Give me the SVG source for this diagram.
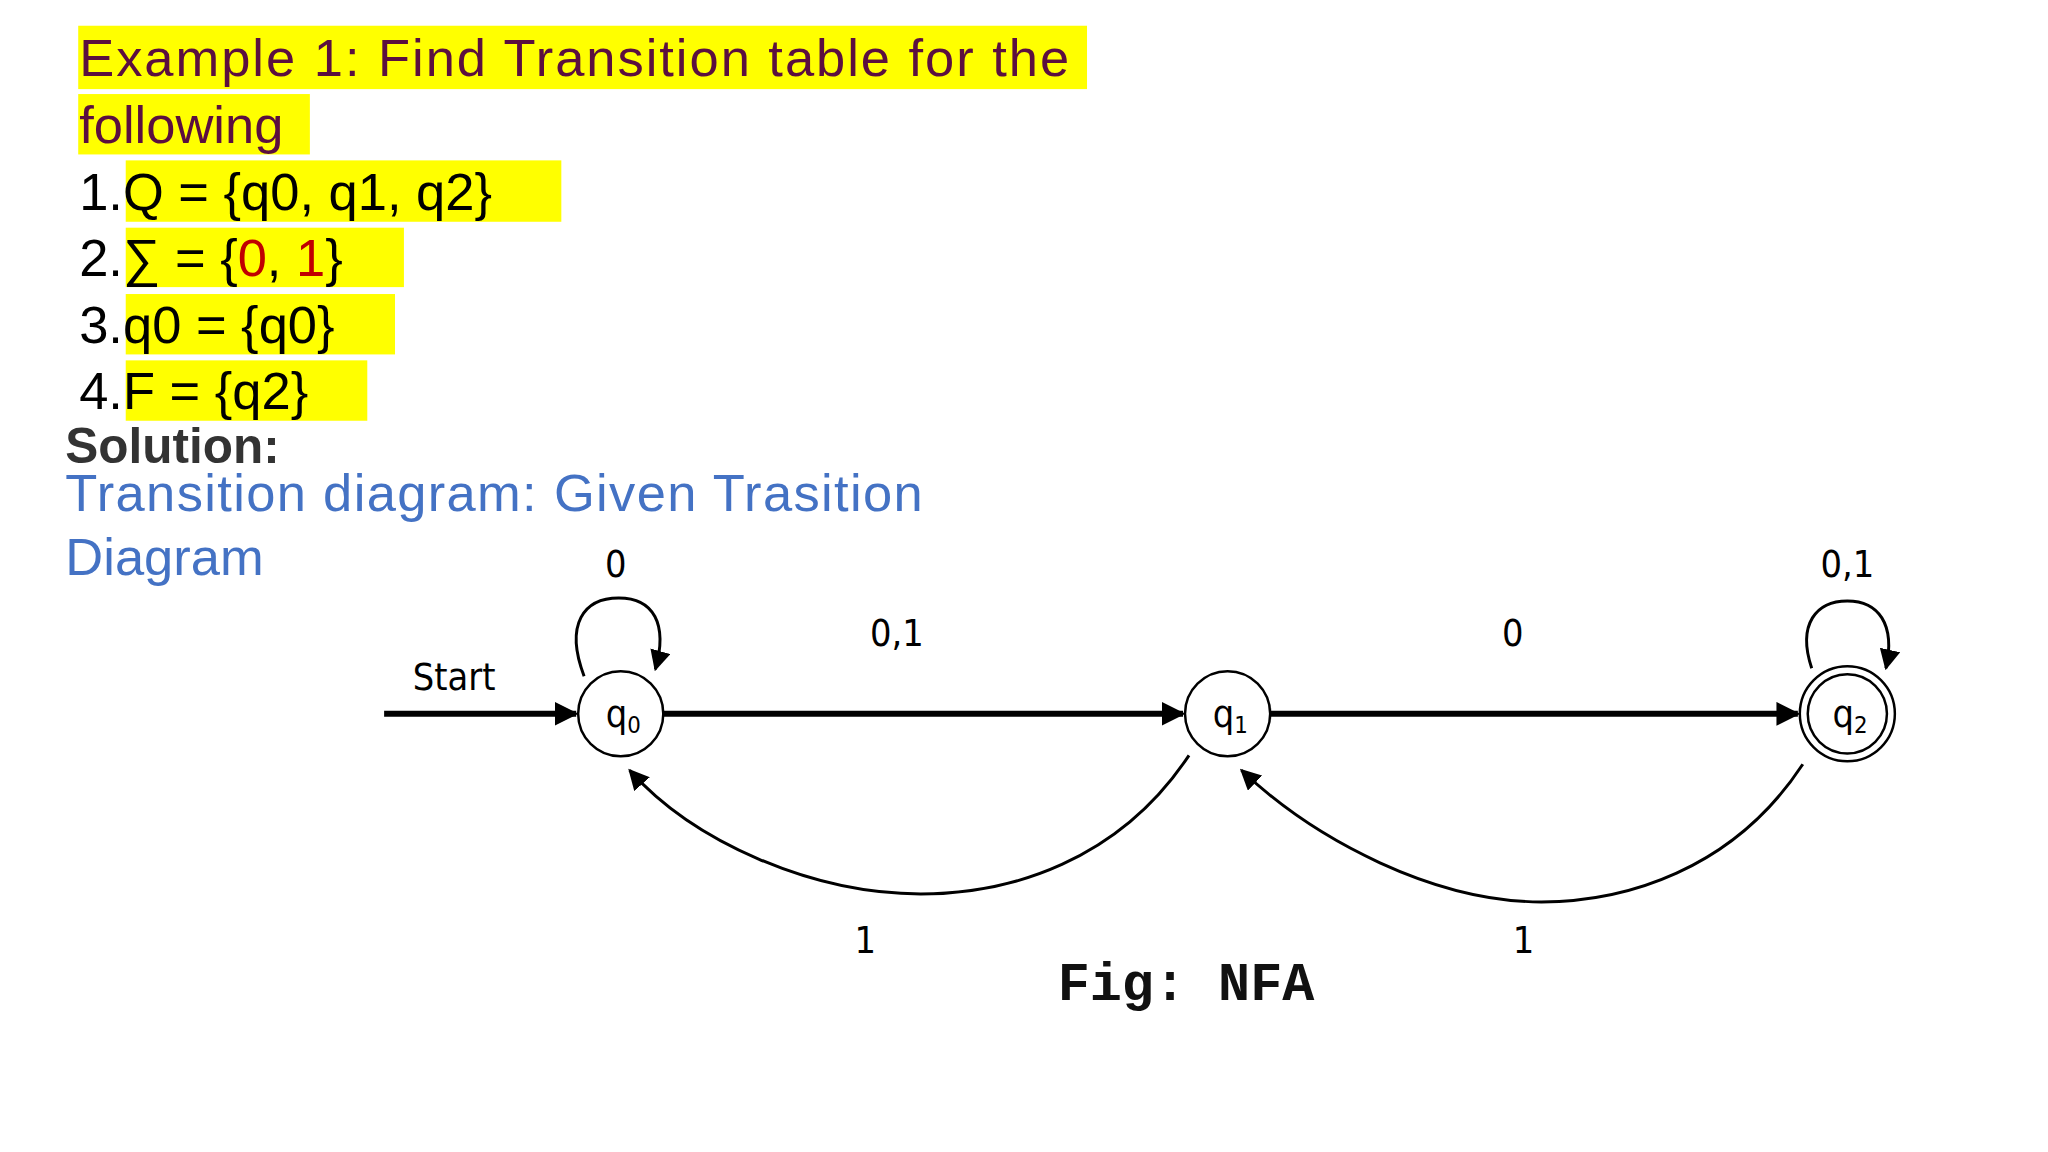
<svg xmlns="http://www.w3.org/2000/svg" width="2048" height="1152" viewBox="0 0 2048 1152">
<style>
.hl{fill:#ffff00}
.t{font-family:"Liberation Sans",Arial,sans-serif;font-size:53px}
.d{font-family:"DejaVu Sans Condensed","DejaVu Sans",sans-serif;font-size:38px;fill:#000}
.st{fill:#fff;stroke:#000;stroke-width:2.5}
.e{fill:none;stroke:#000;stroke-width:6}
.c{fill:none;stroke:#000;stroke-width:3}
</style>
<defs>
<marker id="ah" viewBox="0 0 10 10" refX="9" refY="5" markerWidth="4" markerHeight="4" orient="auto" markerUnits="strokeWidth"><path d="M0,0 L10,5 L0,10 z" fill="#000"/></marker>
<marker id="ahs" viewBox="0 0 10 10" refX="9" refY="5" markerWidth="7" markerHeight="7" orient="auto" markerUnits="strokeWidth"><path d="M0,0 L10,5 L0,10 z" fill="#000"/></marker>
</defs>
<rect width="2048" height="1152" fill="#fff"/>
<g transform="scale(0.99)">
<g id="text">
<rect class="hl" x="79" y="26" width="1019" height="64"/>
<rect class="hl" x="79" y="95" width="234" height="61"/>
<rect class="hl" x="127" y="162" width="440" height="62"/>
<rect class="hl" x="127" y="230" width="281" height="60"/>
<rect class="hl" x="127" y="297" width="272" height="61"/>
<rect class="hl" x="127" y="364" width="244" height="61"/>
<text class="t" x="80" y="77" fill="#5b0f3f" textLength="1000">Example 1: Find Transition table for the</text>
<text class="t" x="80" y="144" fill="#5b0f3f">following</text>
<text class="t" x="80" y="212">1.Q = {q0, q1, q2}</text>
<text class="t" x="80" y="279">2.∑ = {<tspan fill="#c00000">0</tspan>, <tspan fill="#c00000">1</tspan>}</text>
<text class="t" x="80" y="346">3.q0 = {q0}</text>
<text class="t" x="80" y="413">4.F = {q2}</text>
<text x="66" y="468" font-family="Liberation Sans,Arial,sans-serif" font-weight="bold" font-size="50" fill="#333">Solution:</text>
<text class="t" x="66" y="516" fill="#4472c4" textLength="866">Transition diagram: Given Trasition</text>
<text class="t" x="66" y="581" fill="#4472c4">Diagram</text>
</g>
<g id="connectors">
<line class="e" x1="388" y1="721" x2="582" y2="721" marker-end="url(#ah)"/>
<line class="e" x1="670" y1="721" x2="1195" y2="721" marker-end="url(#ah)"/>
<line class="e" x1="1283" y1="721" x2="1816" y2="721" marker-end="url(#ah)"/>
<path class="c" d="M590,683 C570,630 590,604 625,604 C660,604 675,630 662,676" marker-end="url(#ahs)"/>
<path class="c" d="M1830,675 C1815,630 1835,607 1866,607 C1897,607 1915,630 1905,675" marker-end="url(#ahs)"/>
<path class="c" d="M1201,763 C1130,870 1020,903 930,903 C820,903 700,850 636,778" marker-end="url(#ahs)"/>
<path class="c" d="M1821,772 C1750,880 1640,911 1557,911 C1450,911 1330,850 1254,778" marker-end="url(#ahs)"/>
</g>
<g id="q0"><circle class="st" cx="627" cy="721" r="43"/><text class="d" x="612" y="734">q<tspan font-size="24" dy="6">0</tspan></text></g>
<g id="q1"><circle class="st" cx="1240" cy="721" r="43"/><text class="d" x="1225" y="734">q<tspan font-size="24" dy="6">1</tspan></text></g>
<g id="q2"><circle class="st" cx="1866" cy="721" r="48"/><circle class="st" cx="1866" cy="721" r="40"/><text class="d" x="1851" y="734">q<tspan font-size="24" dy="6">2</tspan></text></g>
<g id="labels">
<text class="d" x="417" y="697">Start</text>
<text class="d" x="622" y="583" text-anchor="middle">0</text>
<text class="d" x="906" y="653" text-anchor="middle">0,1</text>
<text class="d" x="1528" y="653" text-anchor="middle">0</text>
<text class="d" x="1866" y="583" text-anchor="middle">0,1</text>
<text class="d" x="874" y="963" text-anchor="middle">1</text>
<text class="d" x="1539" y="963" text-anchor="middle">1</text>
<text x="1198" y="1010" text-anchor="middle" font-family="Liberation Mono,Courier New,monospace" font-weight="bold" font-size="54" fill="#111">Fig: NFA</text>
</g>
</g>
</svg>
